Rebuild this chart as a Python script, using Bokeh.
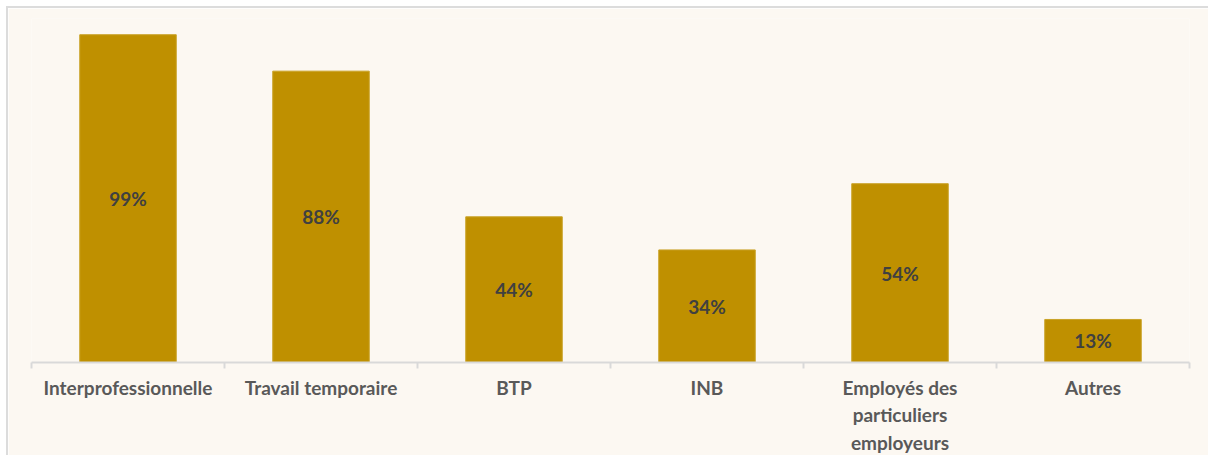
from bokeh.plotting import figure
from bokeh.models import ColumnDataSource, FixedTicker, Range1d, LabelSet
from bokeh.core.properties import value
from bokeh.embed import file_html
from bokeh.resources import INLINE

categories = ["Interprofessionnelle", "Travail temporaire", "BTP", "INB",
              "Employés des\nparticuliers\nemployeurs", "Autres"]
values = [99, 88, 44, 34, 54, 13]
labels = ["99%", "88%", "44%", "34%", "54%", "13%"]

n = len(categories)
xs = [i + 0.5 for i in range(n)]
src = ColumnDataSource(dict(x=xs, top=values, mid=[v / 2 for v in values], lab=labels))

BG = "#FCF8F2"
p = figure(width=1202, height=449, output_backend="svg", toolbar_location=None,
           x_range=Range1d(0, n), y_range=Range1d(0, 103.9),
           min_border_left=23, min_border_right=21, min_border_top=10, min_border_bottom=95,
           background_fill_color=BG, border_fill_color=BG)
p.outline_line_color = None
p.grid.visible = False
p.yaxis.visible = False

p.vbar(x="x", top="top", width=0.5, bottom=0, source=src,
       fill_color="#BF9000", line_color="#C9A227", line_width=1)

p.add_layout(LabelSet(x="x", y="mid", text="lab", source=src,
                      text_align="center", text_baseline="middle",
                      text_font=value("Lato"), text_font_style="bold",
                      text_font_size="19px", text_color="#404040"))

ax = p.xaxis[0]
ax.ticker = FixedTicker(ticks=xs, minor_ticks=list(range(n + 1)))
ax.major_label_overrides = {x: c for x, c in zip(xs, categories)}
ax.major_tick_line_color = None
ax.major_tick_out = 0
ax.major_tick_in = 0
ax.minor_tick_line_color = "#D9D9D9"
ax.minor_tick_line_width = 2
ax.minor_tick_out = 6
ax.minor_tick_in = 0
ax.axis_line_color = "#D9D9D9"
ax.axis_line_width = 2
ax.major_label_text_font = "Lato"
ax.major_label_text_font_style = "bold"
ax.major_label_text_font_size = "19px"
ax.major_label_text_color = "#595959"
ax.major_label_standoff = 7

p.styles = {"margin-top": "6px", "margin-left": "6px",
            "border-top": "2px solid #DCDCDC", "border-left": "2px solid #DCDCDC"}

open("out.html", "w").write(file_html(p, INLINE))
